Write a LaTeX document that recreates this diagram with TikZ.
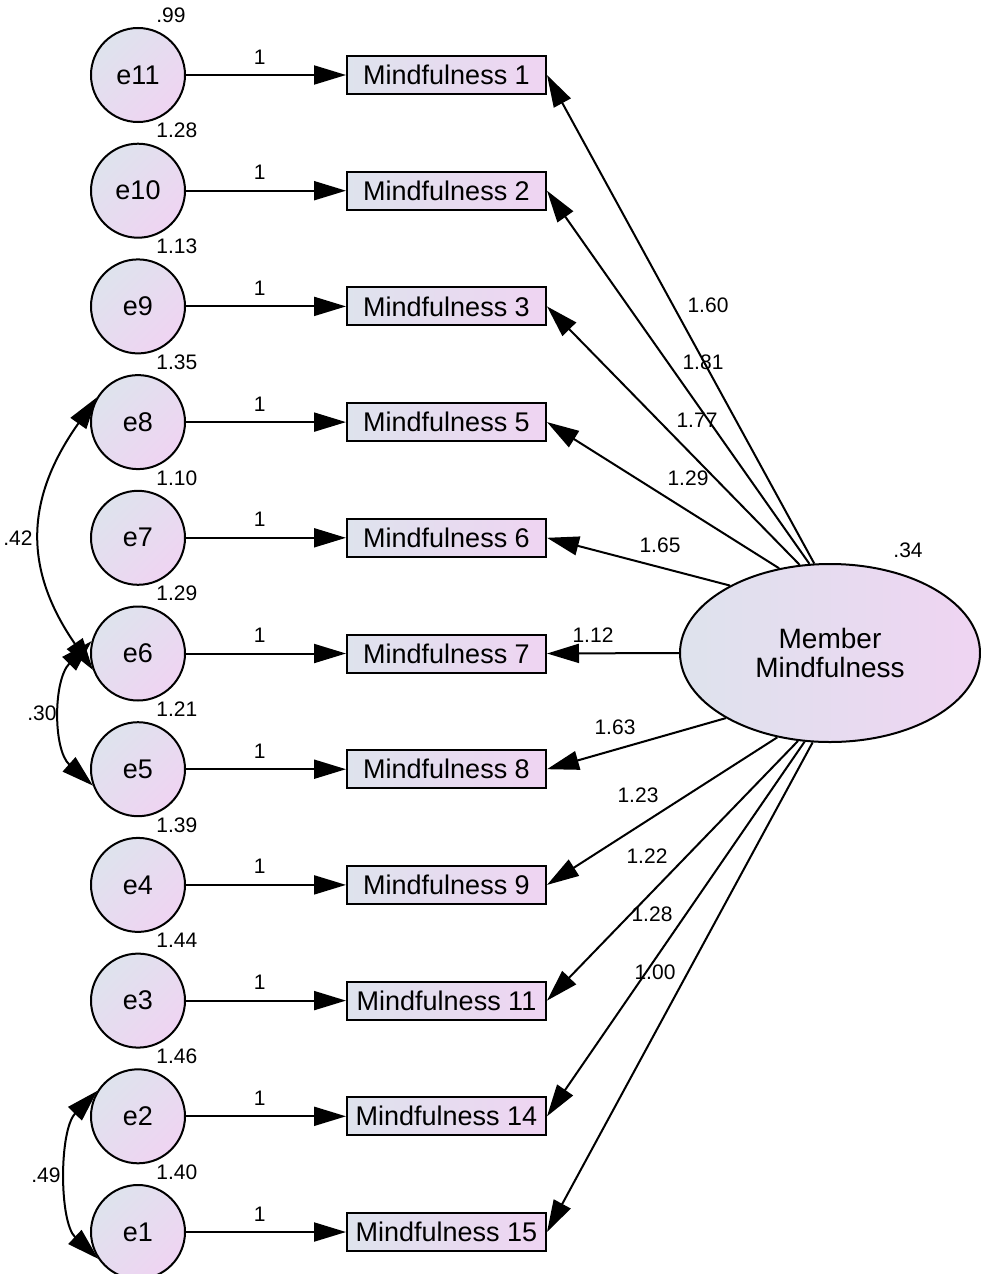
\documentclass[tikz,border=0pt]{standalone}
\usepackage{fontspec}
\setmainfont{Liberation Sans}
\usetikzlibrary{shapes.geometric,arrows.meta}
\definecolor{fillA}{RGB}{222,227,237}
\definecolor{fillB}{RGB}{239,212,242}
\begin{document}
\begin{tikzpicture}[x=0.5pt,y=-0.5pt,
  errvar/.style={circle,draw,line width=1pt,minimum size=47pt,inner sep=0pt,
    top color=fillA,bottom color=fillB,shading angle=45,
    font=\fontsize{13.5}{16}\selectfont},
  obsbox/.style={rectangle,draw,line width=1pt,minimum width=99.5pt,minimum height=19pt,
    inner sep=0pt,left color=fillA,right color=fillB,font=\fontsize{13.5}{16}\selectfont},
  latent/.style={ellipse,draw,line width=1pt,minimum width=150pt,minimum height=89pt,
    inner sep=0pt,left color=fillA,right color=fillB,align=center,
    font=\fontsize{14}{14.5}\selectfont},
  num/.style={font=\fontsize{10.5}{12}\selectfont,inner sep=0pt},
  regpath/.style={line width=1pt,-{Triangle[length=16pt,width=9.5pt]}},
  cov/.style={line width=1pt,{Triangle[length=16pt,width=9.5pt]}-{Triangle[length=16pt,width=9.5pt]}},
]
\useasboundingbox (0,0) rectangle (980,1274);

% error terms, indicators and their unit loadings
\foreach \i/\e/\m/\v in {1/11/1/.99, 2/10/2/1.28, 3/9/3/1.13, 4/8/5/1.35, 5/7/6/1.10,
    6/6/7/1.29, 7/5/8/1.21, 8/4/9/1.39, 9/3/11/1.44, 10/2/14/1.46, 11/1/15/1.40} {
  \pgfmathsetmacro\yy{75+(\i-1)*115.7}
  \node[errvar] (e\e) at (138,\yy) {e\e};
  \node[obsbox] (m\m) at (446.5,\yy) {Mindfulness \m};
  \draw[regpath] (e\e) -- (m\m) node[num,pos=0.46,above=5pt] {1};
  \node[num,anchor=west] (v\e) at (156,\yy-60) {\v};
}

% latent factor
\node[latent] (M) at (830,653) {Member\\Mindfulness};
\node[num] (vM) at (908,550) {.34};

% factor loadings
\foreach \m/\a/\lx/\ly/\w in {1/100.6/708/305/1.60, 2/103.6/703/362/1.81,
    3/109.6/697/420/1.77, 5/121.2/688/478/1.29, 6/146.7/660/545/1.65,
    7/180/593/635/1.12, 8/212.9/615/727/1.63, 9/238.2/638/795/1.23,
    11/250/647/856/1.22, 14/254.1/652/914/1.28, 15/259.1/655/972/1.00} {
  \draw[regpath] (M.\a) -- (m\m.east);
  \node[num] (l\m) at (\lx,\ly) {\w};
}

% error covariances
\draw[cov] (e8.149) .. controls (24,500) and (24,570) .. (e6.200);
\node[num] (c86) at (18,538) {.42};
\draw[cov] (e6.165) .. controls (53,680) and (53,750) .. (e5.200);
\node[num] (c65) at (42,713) {.30};
\draw[cov] (e2.148) .. controls (59,1130) and (59,1222) .. (e1.214);
\node[num] (c21) at (46,1175) {.49};
\end{tikzpicture}
\end{document}
